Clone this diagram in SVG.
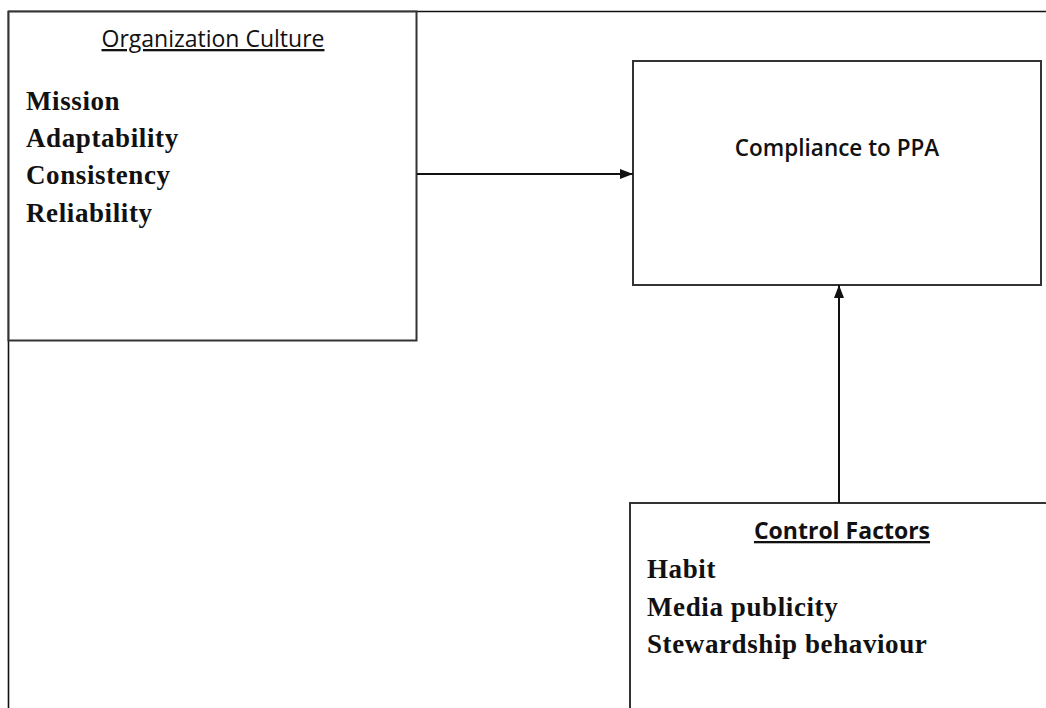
<svg xmlns="http://www.w3.org/2000/svg" width="1046" height="708" viewBox="0 0 1046 708">
<style>
.box{fill:#fff;stroke:#333;stroke-width:2}
.frame{stroke:#111;stroke-width:1.6;fill:none}
.conn{stroke:#111;stroke-width:2;fill:none}
.head{font-family:"Open Sans","Liberation Sans",sans-serif;fill:#111}
.item{font-family:"Liberation Serif","Times New Roman",serif;font-weight:bold;font-size:27px;letter-spacing:0.6px;fill:#111}
</style>
<defs>
<marker id="arr" viewBox="0 0 13 10" refX="13" refY="5" markerWidth="13" markerHeight="10" markerUnits="userSpaceOnUse" orient="auto">
<path d="M0,0 L13,5 L0,10 Z" fill="#111"/>
</marker>
</defs>
<rect width="1046" height="708" fill="#fff"/>
<g id="frame">
<line class="frame" x1="8" y1="11.5" x2="1046" y2="11.5"/>
<line class="frame" x1="8.5" y1="11" x2="8.5" y2="708"/>
</g>
<g id="organization-culture">
<rect class="box" x="8.5" y="11.5" width="408" height="329"/>
<text class="head" x="213" y="47" font-size="23" text-anchor="middle" text-decoration="underline"> Organization Culture</text>
<text class="item" x="26" y="110">Mission</text>
<text class="item" x="26" y="147">Adaptability</text>
<text class="item" x="26" y="184">Consistency</text>
<text class="item" x="26" y="222">Reliability</text>
</g>
<g id="compliance">
<rect class="box" x="633" y="61" width="408" height="224"/>
<text class="head" x="837" y="156" font-size="22.5" font-weight="600" text-anchor="middle">Compliance to PPA</text>
</g>
<g id="control-factors">
<rect class="box" x="630" y="503" width="430" height="230"/>
<text class="head" x="842" y="539" font-size="23" font-weight="bold" text-anchor="middle" text-decoration="underline">Control Factors</text>
<text class="item" x="647" y="578">Habit</text>
<text class="item" x="647" y="616">Media publicity</text>
<text class="item" x="647" y="653">Stewardship behaviour</text>
</g>
<g id="connectors">
<line class="conn" x1="417" y1="174" x2="633" y2="174" marker-end="url(#arr)"/>
<line class="conn" x1="839" y1="503" x2="839" y2="285" marker-end="url(#arr)"/>
</g>
</svg>
